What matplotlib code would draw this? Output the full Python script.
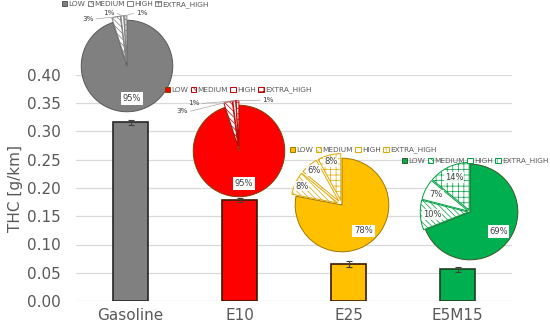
import matplotlib.pyplot as plt
import numpy as np

fuels = ["Gasoline", "E10", "E25", "E5M15"]
thc = [0.316, 0.179, 0.065, 0.056]
thc_err = [0.004, 0.003, 0.005, 0.004]
bar_colors = ["#808080", "#FF0000", "#FFC000", "#00B050"]
bar_edges = ["#262626", "#3a1a00", "#3a1a00", "#1f3f1f"]

modes = ["LOW", "MEDIUM", "HIGH", "EXTRA_HIGH"]
shares = {
    "Gasoline": [95, 3, 1, 1],
    "E10": [95, 3, 1, 1],
    "E25": [78, 8, 6, 8],
    "E5M15": [69, 10, 7, 14],
}

W, H = 550, 330
plt.rcParams["font.family"] = ["DejaVu Sans"]
plt.rcParams["hatch.linewidth"] = 0.5
fig = plt.figure(figsize=(5.5, 3.3), dpi=100)
gray = "#595959"

# main bar axes (pixel box -> figure fraction)
x0, x1, ytop, ybot = 76, 512, 75, 301
ax = fig.add_axes([x0 / W, 1 - ybot / H, (x1 - x0) / W, (ybot - ytop) / H])
xpos = np.arange(len(fuels))
ax.bar(xpos, thc, width=0.32, color=bar_colors, edgecolor=bar_edges,
       linewidth=1.2, yerr=thc_err, capsize=2,
       error_kw=dict(ecolor="#404040", elinewidth=0.8, capthick=0.8), zorder=3)
ax.set_xlim(-0.5, len(fuels) - 0.5)
ax.set_ylim(0, 0.40)
yt = np.arange(0, 0.41, 0.05)
ax.set_yticks(yt)
ax.set_yticklabels([f"{v:.2f}" for v in yt])
ax.set_xticks(xpos)
ax.set_xticklabels(fuels)
ax.tick_params(length=0, labelsize=11, colors=gray, pad=5)
ax.tick_params(axis="y", pad=11)
ax.grid(axis="y", color="#d9d9d9", linewidth=0.9, zorder=0)
for s in ax.spines.values():
    s.set_visible(False)
ax.set_ylabel("THC [g/km]", fontsize=11, color=gray, labelpad=3)

# pie insets: centre (px), radius (px), colours, explode, label spots
pie_cfg = {
    "Gasoline": dict(c=(127, 66), r=44, col="#808080", edge="#595959",
                     hedge="#7f7f7f", explode=[0, 0.1, 0.1, 0.1],
                     spots=[None, (-0.86, 1.03), (-0.39, 1.15), (0.32, 1.15)],
                     leg=(135, 4.5)),
    "E10": dict(c=(239, 151), r=44, col="#FF0000", edge="#7f3f00",
                hedge="#c00000", explode=[0, 0.1, 0.1, 0.1],
                spots=[None, (-1.24, 0.87), (-0.98, 1.04), (0.64, 1.11)],
                leg=(238, 90)),
    "E25": dict(c=(342, 205), r=45, col="#FFC000", edge="#a07800",
                hedge="#e0a800", explode=[0, 0.1, 0.1, 0.1],
                spots=[None, 0.85, 0.85, 0.85], leg=(363, 150)),
    "E5M15": dict(c=(470, 212), r=46, col="#00B050", edge="#385723",
                  hedge="#00a040", explode=[0, 0.04, 0.04, 0.04],
                  spots=[None, 0.75, 0.75, 0.75], leg=(475, 161)),
}
hatches = [None, "\\\\\\\\\\\\", None, "+++"]

for fuel in fuels:
    cfg = pie_cfg[fuel]
    vals = shares[fuel]
    size = 2.6 * cfg["r"]
    cx, cy = cfg["c"]
    pax = fig.add_axes([(cx - size / 2) / W, 1 - (cy + size / 2) / H, size / W, size / H])
    pax.set_xlim(-1.3, 1.3)
    pax.set_ylim(-1.3, 1.3)
    pax.set_aspect("equal")
    pax.axis("off")
    faces = [cfg["col"], "white", "white", "white"]
    wedges, _ = pax.pie(vals, startangle=90, counterclock=False,
                        explode=cfg["explode"], colors=faces, radius=1.0,
                        wedgeprops=dict(linewidth=0.7))
    for i, w in enumerate(wedges):
        if i == 0:
            w.set_edgecolor(cfg["edge"])
        else:
            w.set_edgecolor(cfg["hedge"])
            if hatches[i]:
                w.set_hatch(hatches[i])
        w.set_linewidth(0.7)
    for i, w in enumerate(wedges):
        ang = np.deg2rad((w.theta1 + w.theta2) / 2)
        ex = cfg["explode"][i]
        spot = cfg["spots"][i]
        if i == 0:
            d = 0.72
            pax.text(d * np.cos(ang), d * np.sin(ang), f"{vals[i]}%",
                     ha="center", va="center", fontsize=6, color="#404040",
                     bbox=dict(boxstyle="square,pad=0.2", fc="white", ec="none"))
        elif isinstance(spot, tuple):
            # label outside, joined to its slice by a leader line
            tx, ty = spot
            px, py = (1 + ex) * np.cos(ang), (1 + ex) * np.sin(ang)
            endx = tx + (0.18 if tx < 0 else -0.18)
            pax.plot([px, endx], [py, ty], color="#a6a6a6", linewidth=0.5)
            pax.text(tx, ty, f"{vals[i]}%", ha="center", va="center",
                     fontsize=5.2, color="#404040")
        else:
            d = spot + ex
            pax.text(d * np.cos(ang), d * np.sin(ang), f"{vals[i]}%",
                     ha="center", va="center", fontsize=6, color="#404040",
                     bbox=dict(boxstyle="square,pad=0.1", fc="white", ec="none", alpha=0.85))
    lx, ly = cfg["leg"]
    leg = fig.legend(wedges, modes, loc="center", ncol=4,
                     bbox_to_anchor=(lx / W, 1 - ly / H), frameon=False,
                     fontsize=5.3, handlelength=0.7, handleheight=0.7,
                     handletextpad=0.2, columnspacing=0.35, borderpad=0)
    for t in leg.get_texts():
        t.set_color(gray)

fig.savefig("out.png", dpi=100)
